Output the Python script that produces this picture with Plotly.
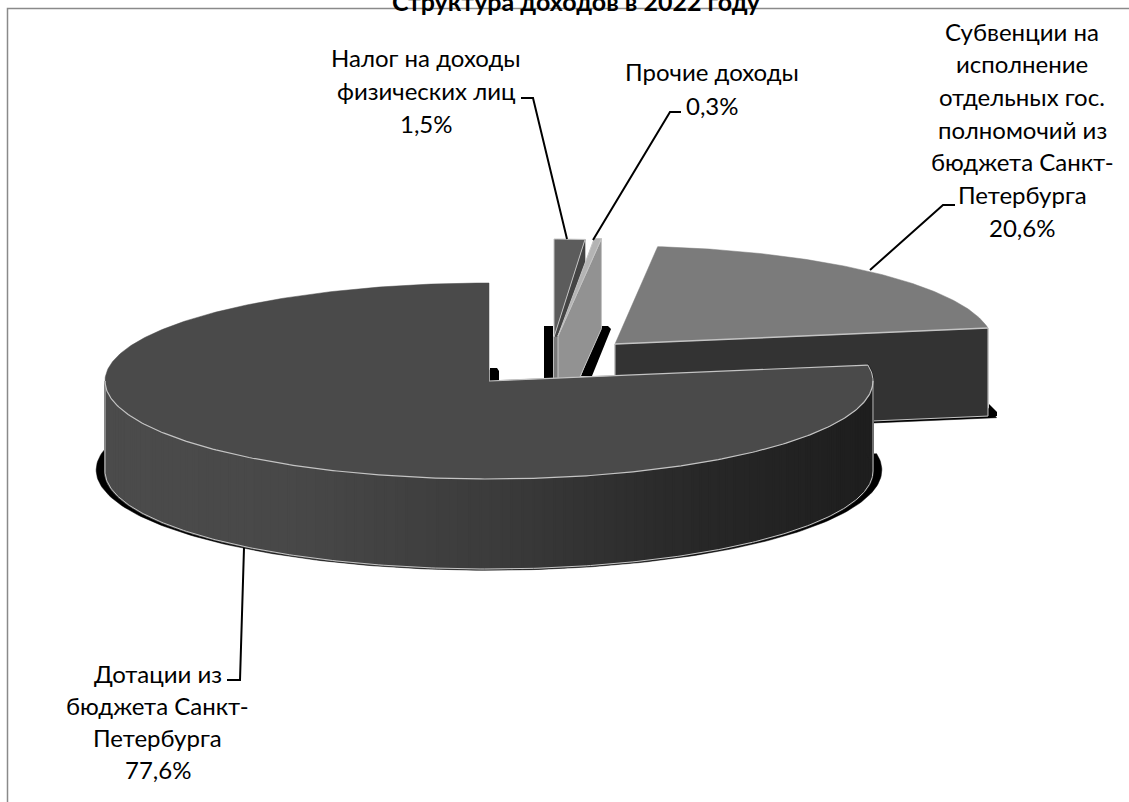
import math
import plotly.graph_objects as go

categories = ["Налог на доходы физических лиц", "Прочие доходы",
              "Субвенции на исполнение отдельных гос. полномочий из бюджета Санкт-Петербурга",
              "Дотации из бюджета Санкт-Петербурга"]
shares = [1.5, 0.3, 20.6, 77.6]
title_text = "Структура доходов в 2022 году"
label_lines = [
    ["Налог на доходы", "физических лиц", "1,5%"],
    ["Прочие доходы", "0,3%"],
    ["Субвенции на", "исполнение", "отдельных гос.", "полномочий из", "бюджета Санкт-", "Петербурга", "20,6%"],
    ["Дотации из", "бюджета Санкт-", "Петербурга", "77,6%"],
]

# ---- presentation geometry (pixels) ----
FONT = "Lato"
FS = 24
# apex x, apex y, rx, ry, depth for each slice
GEOM = [(554, 337, 330, 98, 90), (558, 336, 385, 98, 90),
        (615, 344, 378, 98, 88), (489, 381, 384, 98, 90)]
TOP = ["#5c5c5c", "#b4b4b4", "#7b7b7b", "#4a4a4a"]
EDGE = "#c4c4c4"
LABEL_POS = [(426, 57), (712, 71), (1022, 31), (157.5, 673)]
LINE_STEP = [33, 34, 32.7, 32.3]

# angle spans, clockwise from 12 o'clock, derived from the shares
spans, acc = [], 0.0
for s in shares:
    spans.append((acc * 3.6, (acc + s) * 3.6))
    acc += s


def rim(i, a, dy=0.0):
    cx, cy, rx, ry, _ = GEOM[i]
    t = math.radians(a)
    return cx + rx * math.sin(t), cy - ry * math.cos(t) + dy


def arc(i, a0, a1, dy=0.0):
    n = max(2, int(abs(a1 - a0) * 1.5))
    return [rim(i, a0 + (a1 - a0) * k / n, dy) for k in range(n + 1)]


def poly(pts, fill, line=None, w=1):
    xs = [p[0] for p in pts] + [pts[0][0]]
    ys = [p[1] for p in pts] + [pts[0][1]]
    return go.Scatter(x=xs, y=ys, mode="lines", fill="toself", fillcolor=fill,
                      line=dict(color=line or fill, width=w if line else 0.5),
                      hoverinfo="skip", showlegend=False)


def path(pts, color=EDGE, w=1):
    return go.Scatter(x=[p[0] for p in pts], y=[p[1] for p in pts], mode="lines",
                      line=dict(color=color, width=w), hoverinfo="skip", showlegend=False)


def lerp_gray(x):
    stops = [(105, 0x4c), (300, 0x48), (489, 0x3c), (700, 0x28), (873, 0x1e)]
    for (x0, g0), (x1, g1) in zip(stops, stops[1:]):
        if x <= x1:
            g = int(g0 + (g1 - g0) * (x - x0) / (x1 - x0))
            return f"rgb({g},{g},{g})"
    return "rgb(30,30,30)"


traces = []
# --- black shadows
cx, cy, rx, ry, d = GEOM[3]
sc = 1.023
shadow = [(cx + rx * sc * math.sin(math.radians(a)), cy + d - 1 - ry * sc * math.cos(math.radians(a)))
          for a in [spans[3][0] + (360 - spans[3][0]) * k / 240 for k in range(241)]]
traces.append(poly(shadow + [(cx, cy + d)], "#000000"))
sx, sy, srx, sry, sd = GEOM[2]
shadow2 = [(sx + srx * 1.023 * math.sin(math.radians(a)), sy + sd + 2 - sry * 1.023 * math.cos(math.radians(a)))
           for a in [spans[2][0] + (spans[2][1] - spans[2][0]) * k / 60 for k in range(61)]]
traces.append(poly(shadow2 + [(sx, sy + sd + 2)], "#000000"))

# --- subvention slice
a0, a1 = spans[2]
e = rim(2, a1)
traces.append(poly([(sx, sy), e, (e[0], e[1] + sd), (sx, sy + sd)], "#333333"))
traces.append(poly([(sx, sy)] + arc(2, a0, a1), TOP[2]))
traces.append(path([(sx, sy), e], EDGE, 1.5))
traces.append(path([(sx, sy), (sx, sy + sd)], EDGE, 1))
traces.append(path([e, (e[0], e[1] + sd), (sx, sy + sd)], EDGE, 1))

# --- two small slices
nx, ny, _, _, nd = GEOM[0]
a0, a1 = spans[0]
e = rim(0, a1)
traces.append(poly([(nx, ny), e, (e[0], e[1] + nd), (nx, ny + nd)], "#444444"))
traces.append(poly([(nx, ny), (nx + 5, ny), (nx + 5, ny + nd), (nx, ny + nd)], "#787878"))
traces.append(poly([(nx, ny)] + arc(0, a0, a1), TOP[0], EDGE, 1))
px, py, _, _, pd = GEOM[1]
a0, a1 = spans[1]
e = rim(1, a1)
traces.append(poly([(px, py), e, (e[0], e[1] + pd), (px, py + pd)], "#929292", EDGE, 1))
traces.append(poly([(px, py)] + arc(1, a0, a1), TOP[1], EDGE, 1))

# --- main slice: side wall made of shaded strips, then top face
a0, a1 = spans[3]
cx, cy, rx, ry, d = GEOM[3]
N = 120
for k in range(N):
    b0 = 270 - (270 - 80) * k / N
    b1 = 270 - (270 - 80) * (k + 1) / N
    p0, p1 = rim(3, b0), rim(3, b1)
    col = lerp_gray((p0[0] + p1[0]) / 2)
    traces.append(poly([p0, p1, (p1[0], p1[1] + d), (p0[0], p0[1] + d)], col, col, 2))
traces.append(poly([(cx, cy)] + arc(3, a0, a1), TOP[3]))
traces.append(path(arc(3, 90, 270), EDGE, 1.2))
traces.append(path(arc(3, 90, 270, d), EDGE, 1))
traces.append(path([rim(3, a0), (cx, cy)], EDGE, 1.2))
traces.append(path(arc(3, a0, 90), EDGE, 1))
traces.append(path([rim(3, 90), (rim(3, 90)[0], rim(3, 90)[1] + d)], EDGE, 1))
traces.append(path([rim(3, 270), (rim(3, 270)[0], rim(3, 270)[1] + d)], EDGE, 1))

fig = go.Figure(traces)

# --- text
ann = [dict(x=576 / 1129, y=1 - 1.5 / 802, text=f"<b>{title_text}</b>", showarrow=False, xref="paper", yref="paper",
            xanchor="center", yanchor="middle", font=dict(family=FONT, size=25, color="#000"))]
for lines, (x, y), step in zip(label_lines, LABEL_POS, LINE_STEP):
    for n, t in enumerate(lines):
        ann.append(dict(x=x, y=y + n * step, text=t, showarrow=False, xref="x", yref="y",
                        xanchor="center", yanchor="middle", font=dict(family=FONT, size=FS, color="#000")))


def svg(pts, close=False):
    return "M " + " L ".join(f"{a},{b}" for a, b in pts) + (" Z" if close else "")


def black(pts):
    return dict(type="path", path=svg(pts, True), fillcolor="#000", line=dict(width=0), layer="below")


def lead(pts):
    return dict(type="path", path=svg(pts), line=dict(color="#000", width=2), layer="above")


shapes = [
    dict(type="path", path=svg([(7.5, 802), (7.5, 8.5), (1129, 8.5)]),
         line=dict(color="#8a8a8a", width=1.5), layer="below"),
    black([(544, 326), (553, 326), (553, 378), (544, 378)]),
    black([(600, 326), (608, 326), (611, 329), (592, 376), (581, 376)]),
    black([(490, 368), (497, 368), (499, 371), (499, 381), (490, 381)]),
    black([(989, 404), (997, 412), (997, 416), (989, 416)]),
    lead([(521, 98), (533, 98), (567, 239)]),
    lead([(681, 112), (670, 112), (593, 240)]),
    lead([(955, 205), (943, 205), (870, 270)]),
    lead([(227, 680), (240, 680), (244, 548)]),
]

fig.update_layout(
    width=1129, height=802, autosize=False,
    margin=dict(l=0, r=0, t=0, b=0),
    paper_bgcolor="#ffffff", plot_bgcolor="#ffffff",
    showlegend=False, annotations=ann, shapes=shapes,
    xaxis=dict(range=[0, 1129], visible=False, fixedrange=True),
    yaxis=dict(range=[802, 0], visible=False, fixedrange=True),
)
fig.write_html("out.html", config=dict(displayModeBar=False),
               post_script="document.body.style.margin='0';document.body.style.overflow='hidden';")
